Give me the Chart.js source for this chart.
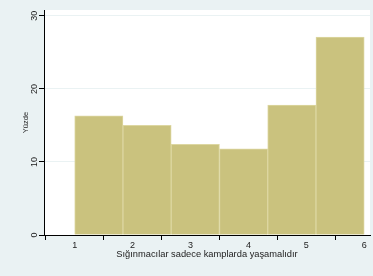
<!DOCTYPE html>
<html>
<head>
<meta charset="utf-8">
<script src="https://cdn.jsdelivr.net/npm/chart.js@4.4.1/dist/chart.umd.min.js"></script>
<style>
  html, body { margin: 0; padding: 0; background: #eaf2f3; }
  #wrap { width: 373px; height: 276px; }
</style>
</head>
<body>
<div id="wrap"><canvas id="hist"></canvas></div>
<script>
// Histogram bins (centres of the six bins between 1 and 6) and percentages
const binCenters = [1.4167, 2.25, 3.0833, 3.9167, 4.75, 5.5833];
const percents = [16.3, 15.0, 12.4, 11.8, 17.8, 27.1];
const xTicks = [1, 2, 3, 4, 5, 6];
const yTicks = [0, 10, 20, 30];

const FONT = 'Liberation Sans, Arial, Helvetica, sans-serif';
const TEXT = '#222222';

// Grey-blue page with a white plot region, like Stata's s2color scheme
const backgroundPlugin = {
  id: 'background',
  beforeDraw(chart) {
    const { ctx, chartArea } = chart;
    ctx.save();
    ctx.fillStyle = '#eaf2f3';
    ctx.fillRect(0, 0, chart.width, chart.height);
    ctx.fillStyle = '#ffffff';
    ctx.fillRect(chartArea.left, chartArea.top, chartArea.right - chartArea.left, chartArea.bottom - chartArea.top);
    ctx.restore();
  }
};

// Y tick labels rotated to read bottom-to-top
const yLabelPlugin = {
  id: 'yLabels',
  afterDraw(chart) {
    const { ctx } = chart;
    const scale = chart.scales.y;
    ctx.save();
    ctx.fillStyle = TEXT;
    ctx.font = '9px ' + FONT;
    ctx.textAlign = 'center';
    ctx.textBaseline = 'alphabetic';
    scale.ticks.forEach(t => {
      const y = scale.getPixelForValue(t.value);
      ctx.save();
      ctx.translate(37, y);
      ctx.rotate(-Math.PI / 2);
      ctx.fillText(String(t.value), 0, 0);
      ctx.restore();
    });
    ctx.restore();
  }
};

new Chart(document.getElementById('hist'), {
  type: 'bar',
  data: {
    datasets: [{
      data: binCenters.map((x, i) => ({ x: x, y: percents[i] })),
      backgroundColor: '#cac27e',
      borderColor: '#ddd7a2',
      borderWidth: 1,
      barPercentage: 1,
      categoryPercentage: 1
    }]
  },
  options: {
    responsive: true,
    maintainAspectRatio: false,
    animation: false,
    layout: { padding: { top: 10, right: 3, left: 0, bottom: 0 } },
    plugins: {
      legend: { display: false },
      tooltip: { enabled: false }
    },
    scales: {
      x: {
        type: 'linear',
        min: 0.47,
        max: 6.1,
        offset: false,
        afterBuildTicks: s => { s.ticks = xTicks.map(v => ({ value: v })); },
        afterFit: s => { s.height = 41; },
        grid: { drawOnChartArea: false, drawTicks: true, tickLength: 5, tickColor: '#000000' },
        border: { display: true, color: '#000000', width: 1 },
        ticks: { color: TEXT, font: { size: 9, family: FONT }, padding: 0, maxRotation: 0 },
        title: {
          display: true,
          text: 'Sığınmacılar sadece kamplarda yaşamalıdır',
          color: TEXT,
          font: { size: 9.3, family: FONT },
          padding: { top: 0, bottom: 15.5 }
        }
      },
      y: {
        min: 0,
        max: 30.8,
        afterBuildTicks: s => { s.ticks = yTicks.map(v => ({ value: v })); },
        afterFit: s => { s.width = 44; },
        grid: { color: '#eaf2f3', lineWidth: 1, drawTicks: true, tickLength: 5, tickColor: '#000000' },
        border: { display: true, color: '#000000', width: 1 },
        ticks: { display: false },
        title: {
          display: true,
          text: 'Yüzde',
          color: TEXT,
          font: { size: 7.5, family: FONT },
          padding: { top: 21, bottom: 0 }
        }
      }
    }
  },
  plugins: [backgroundPlugin, yLabelPlugin]
});
</script>
</body>
</html>
